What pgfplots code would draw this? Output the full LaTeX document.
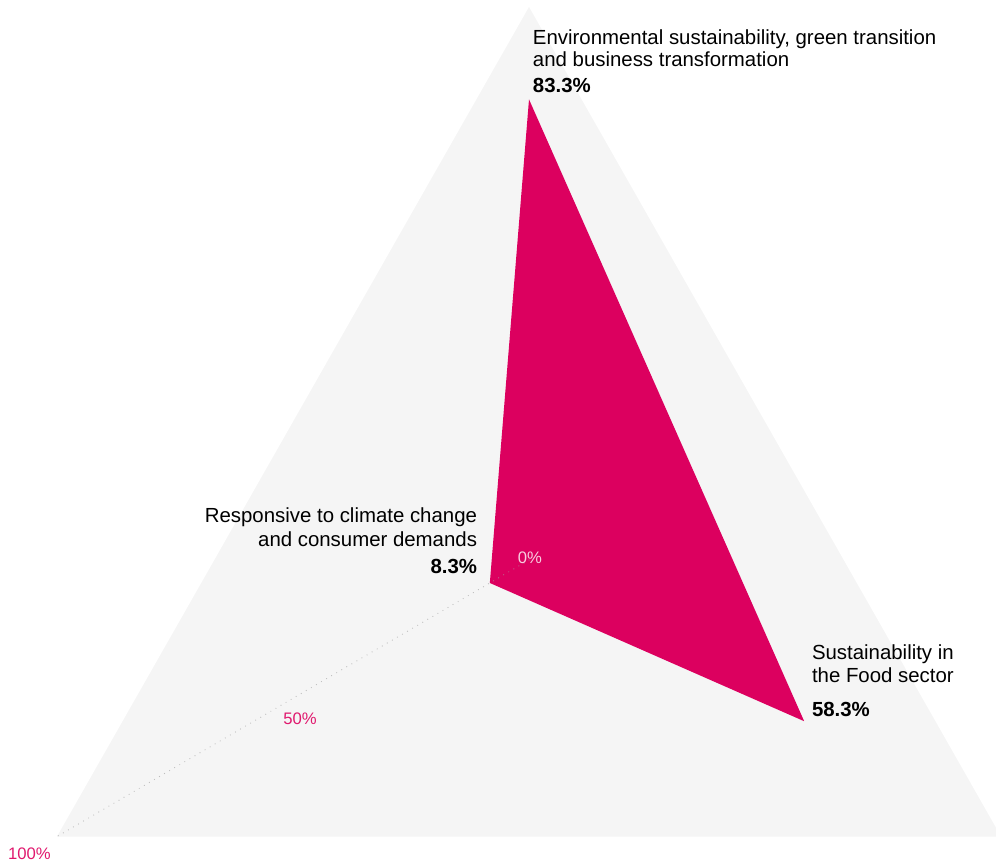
\documentclass[border=0pt]{standalone}
\usepackage{pgfplots}
\pgfplotsset{compat=1.18}
\usepackage{fontspec}
\setmainfont{Liberation Sans}
\definecolor{pinkfill}{HTML}{DC005F}
\definecolor{pinklab}{HTML}{E0196E}
\definecolor{bgtri}{HTML}{F5F5F5}
\tikzset{lab/.style={inner sep=0pt, outer sep=0pt, font=\fontsize{15.3}{17}\selectfont},
         blab/.style={inner sep=0pt, outer sep=0pt, font=\fontsize{15.3}{17}\selectfont\bfseries},
         tlab/.style={inner sep=0pt, outer sep=0pt, anchor=base, font=\fontsize{12.5}{14}\selectfont}}
\begin{document}
\begin{tikzpicture}
\begin{axis}[
  x=4.0873pt, y=4.1475pt,
  xmin=-97.07, xmax=85.69, ymin=-55.15, ymax=101.27,
  hide axis, clip=true,
]
% background triangle (100% on each axis); angles: top 90, right -30, left 210
\addplot[draw=none, fill=bgtri, data cs=polar] coordinates {(90,100) (-30,100) (210,100)} -- cycle;
% data polygon
\addplot[draw=none, fill=pinkfill, data cs=polar] coordinates {(90,83.3) (-30,58.3) (210,8.3)} -- cycle;
% radial axis (dotted)
\addplot[gray!70, opacity=0.7, line width=0.9pt, line cap=round, dash pattern=on 0pt off 4.4pt, data cs=polar] coordinates {(210,0) (210,100)};
% tick labels
\node[tlab, text=white!80!pinkfill] at (axis cs:0.18,-0.72) {0\%};
\node[tlab, text=pinklab] at (axis cs:-42.02,-29.66) {50\%};
\node[tlab, text=pinklab] at (axis cs:-91.66,-54.07) {100\%};
% category labels
\node[lab, anchor=base west] at (axis cs:0.73,93.31) {Environmental sustainability, green transition};
\node[lab, anchor=base west] at (axis cs:0.73,89.33) {and business transformation};
\node[blab, anchor=base west] at (axis cs:0.73,84.63) {83.3\%};
\node[lab, anchor=base east] at (axis cs:-9.54,6.87) {Responsive to climate change};
\node[lab, anchor=base east] at (axis cs:-9.54,2.53) {and consumer demands};
\node[blab, anchor=base east] at (axis cs:-9.54,-2.35) {8.3\%};
\node[lab, anchor=base west] at (axis cs:51.93,-17.90) {Sustainability in};
\node[lab, anchor=base west] at (axis cs:51.93,-22.06) {the Food sector};
\node[blab, anchor=base west] at (axis cs:51.93,-28.21) {58.3\%};
\end{axis}
\path (current axis.south west) rectangle (current axis.north east);
\end{tikzpicture}
\end{document}
